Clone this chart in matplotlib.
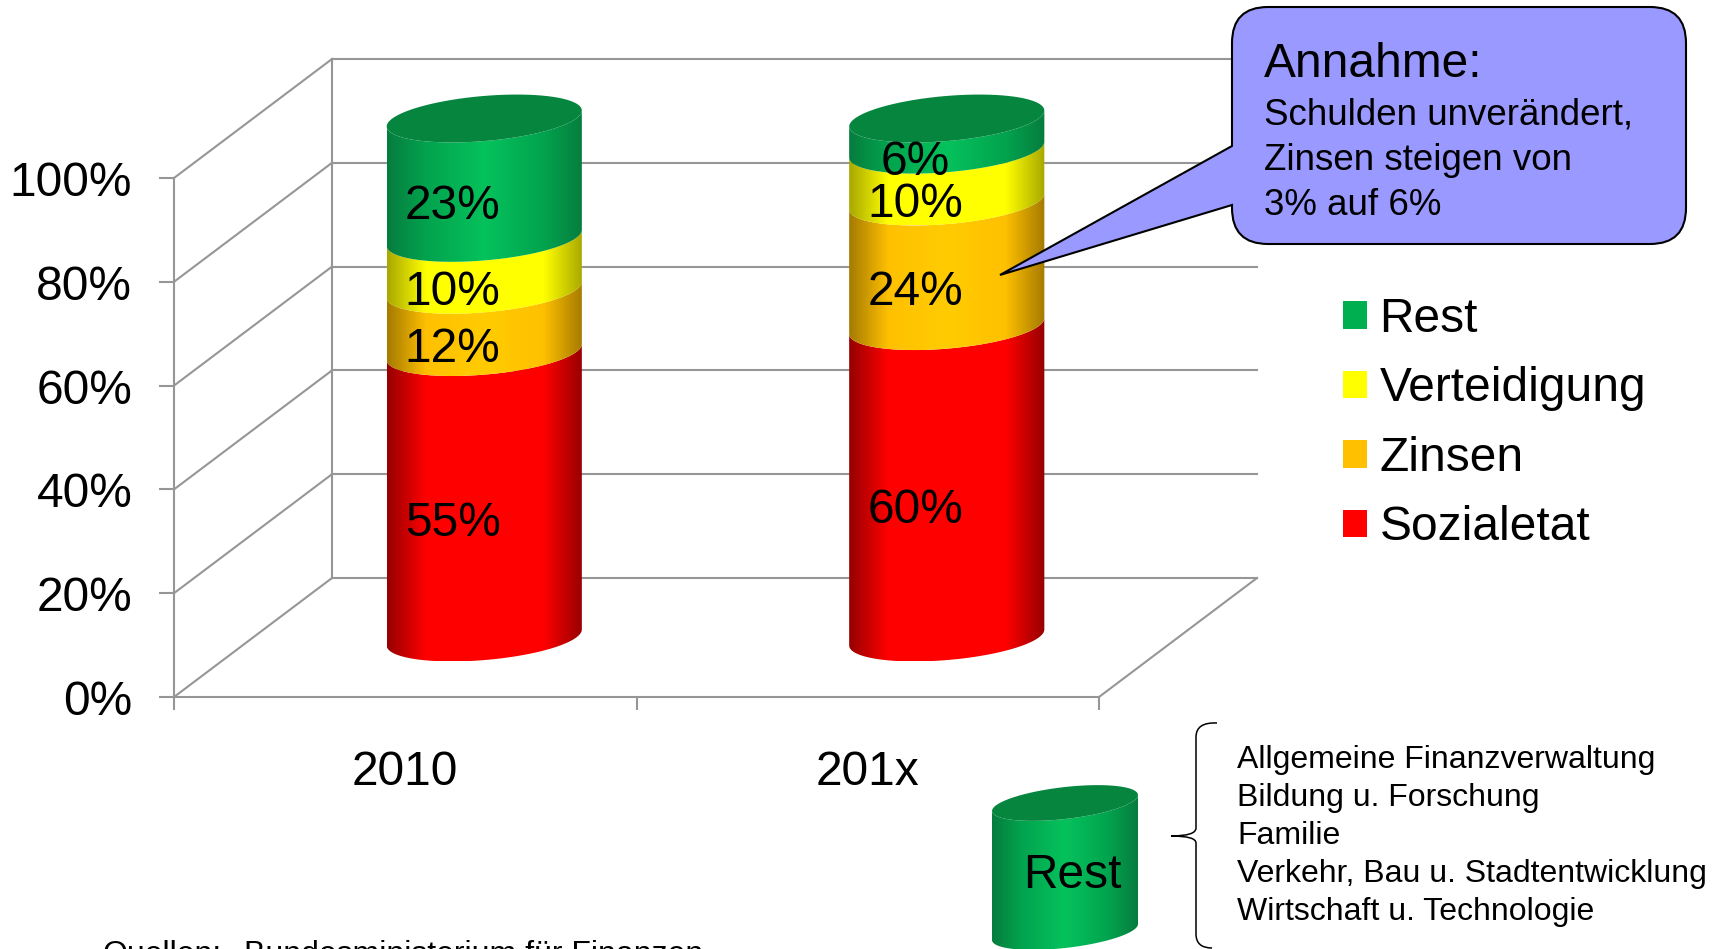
"""
Stacked 3D cylinder chart of the federal budget shares, 2010 against 201x.
Saves the figure as out.png.
"""

import numpy as np
import matplotlib

matplotlib.use("Agg")
import matplotlib.pyplot as plt
from matplotlib.patches import Patch, PathPatch, Polygon
from matplotlib.path import Path
from matplotlib.transforms import ScaledTranslation


CATEGORIES = ["2010", "201x"]
SERIES = ["Sozialetat", "Zinsen", "Verteidigung", "Rest"]
SOZIALETAT = [55, 60]
ZINSEN = [12, 24]
VERTEIDIGUNG = [10, 10]
REST = [23, 6]
Y_TICKS = [0, 20, 40, 60, 80, 100]
REST_ITEMS = [
    "Allgemeine Finanzverwaltung",
    "Bildung u. Forschung",
    "Familie",
    "Verkehr, Bau u. Stadtentwicklung",
    "Wirtschaft u. Technologie",
]

WIDTH, HEIGHT = 1725, 949
PLOT_LEFT, PLOT_RIGHT, PLOT_BOTTOM, PLOT_TOP = 174, 1099, 697, 178
GRID_COLOR = "#969696"
LINE_W = 1.5
BIG_FONT = 34.5

# wall depth, in data units of the main axes
DEPTH_X = 158 / ((PLOT_RIGHT - PLOT_LEFT) / 2)
DEPTH_Y = 119 / ((PLOT_BOTTOM - PLOT_TOP) / 100)

BAR_HALF_WIDTH = 0.211
ELLIPSE_TILT = 1.54
ELLIPSE_B = 4.35
LABEL_DEPTH = 0.30

# edge, full and centre colour for the cylinder sides
SHADES = {
    "Sozialetat": ("#960000", "#ff0000", "#ff0000"),
    "Zinsen": ("#a57a00", "#ffc000", "#ffcc00"),
    "Verteidigung": ("#a8a800", "#ffff00", "#ffff00"),
    "Rest": ("#067c3e", "#02a34e", "#05c25c"),
}
TOP_GREEN = "#06853f"


def hex_rgb(color):
    return np.array(matplotlib.colors.to_rgb(color))


def shade_strip(shade):
    """Horizontal gradient image for a cylinder side."""
    edge, full, centre = [hex_rgb(c) for c in shade]
    pos = np.linspace(0, 1, 256)
    stops = [0, 0.2, 0.5, 0.8, 1]
    colors = np.array([edge, full, centre, full, edge])
    strip = np.stack([np.interp(pos, stops, colors[:, i]) for i in range(3)], axis=1)
    return strip[np.newaxis, :, :]


def arc(cx, cy, half_w, tilt, b, start, stop):
    t = np.linspace(start, stop, 80)
    return np.column_stack([cx + half_w * np.cos(t), cy + tilt * np.cos(t) + b * np.sin(t)])


def draw_side(ax, cx, y0, y1, half_w, tilt, b, shade, zorder=3):
    """Cylinder side between two levels, shaded left to right."""
    lower = arc(cx, y0, half_w, tilt, b, np.pi, 2 * np.pi)
    upper = arc(cx, y1, half_w, tilt, b, 2 * np.pi, np.pi)
    outline = np.vstack([lower, upper])
    im = ax.imshow(
        shade_strip(shade),
        extent=[
            cx - half_w,
            cx + half_w,
            outline[:, 1].min(),
            outline[:, 1].max(),
        ],
        aspect="auto",
        interpolation="bilinear",
        zorder=zorder,
    )
    im.set_clip_box(ax.figure.bbox)
    im.set_clip_path(Polygon(outline, closed=True, transform=ax.transData))


def draw_top(ax, cx, cy, half_w, tilt, b, zorder=3):
    ring = arc(cx, cy, half_w, tilt, b, 0, 2 * np.pi)
    ax.add_patch(
        Polygon(ring, closed=True, facecolor=TOP_GREEN, edgecolor="none", zorder=zorder, clip_on=False)
    )


def draw_walls(ax):
    """Back wall, side wall and floor lines behind the cylinders."""
    x_max = len(CATEGORIES)
    line = dict(color=GRID_COLOR, lw=LINE_W, clip_on=False, zorder=1)
    for tick in Y_TICKS:
        ax.plot([0, DEPTH_X], [tick, tick + DEPTH_Y], **line)
        ax.plot([DEPTH_X, x_max + DEPTH_X], [tick + DEPTH_Y, tick + DEPTH_Y], **line)
    ax.plot([DEPTH_X, DEPTH_X], [DEPTH_Y, 100 + DEPTH_Y], **line)
    ax.plot([x_max, x_max + DEPTH_X], [0, DEPTH_Y], **line)


def draw_cylinders(ax):
    stacks = [SOZIALETAT, ZINSEN, VERTEIDIGUNG, REST]
    for i in range(len(CATEGORIES)):
        cx = i + 0.5 + 0.5 * DEPTH_X
        bottom = 0
        for name, values in zip(SERIES, stacks):
            value = values[i]
            y0 = bottom + 0.5 * DEPTH_Y
            y1 = bottom + value + 0.5 * DEPTH_Y
            draw_side(ax, cx, y0, y1, BAR_HALF_WIDTH, ELLIPSE_TILT, ELLIPSE_B, SHADES[name])
            ax.text(
                i + 0.5 + LABEL_DEPTH * DEPTH_X,
                bottom + value / 2 + LABEL_DEPTH * DEPTH_Y,
                f"{value}%",
                fontsize=BIG_FONT,
                ha="center",
                va="center_baseline",
                zorder=4,
                clip_on=False,
            )
            bottom += value
        draw_top(ax, cx, bottom + 0.5 * DEPTH_Y, BAR_HALF_WIDTH, ELLIPSE_TILT, ELLIPSE_B)


def style_axes(ax):
    ax.set_xlim(0, len(CATEGORIES))
    ax.set_ylim(0, 100)
    ax.patch.set_visible(False)
    for side in ["top", "right"]:
        ax.spines[side].set_visible(False)
    for side in ["left", "bottom"]:
        ax.spines[side].set_color(GRID_COLOR)
        ax.spines[side].set_linewidth(LINE_W)

    ax.set_yticks(Y_TICKS, [f"{t}%" for t in Y_TICKS])
    ax.tick_params(axis="y", labelsize=BIG_FONT, length=10.5, width=LINE_W, color=GRID_COLOR, pad=19.5)
    nudge = ScaledTranslation(0, -0.5 / 100, ax.figure.dpi_scale_trans)
    for label in ax.get_yticklabels():
        label.set_transform(label.get_transform() + nudge)

    ax.set_xticks(range(len(CATEGORIES) + 1), [""] * (len(CATEGORIES) + 1))
    ax.tick_params(axis="x", which="major", length=9.5, width=LINE_W, color=GRID_COLOR)
    ax.set_xticks(np.arange(len(CATEGORIES)) + 0.5, CATEGORIES, minor=True)
    ax.tick_params(axis="x", which="minor", length=0, labelsize=BIG_FONT, pad=38.5)


def add_legend(ax, fig):
    colors = {"Rest": "#00b050", "Verteidigung": "#ffff00", "Zinsen": "#ffc000", "Sozialetat": "#ff0000"}
    handles = [Patch(facecolor=colors[s], label=s) for s in reversed(SERIES)]
    ax.legend(
        handles=handles,
        loc="upper left",
        bbox_to_anchor=(1343 / WIDTH, 1 - 297 / HEIGHT),
        bbox_transform=fig.transFigure,
        frameon=False,
        fontsize=BIG_FONT,
        handlelength=0.51,
        handleheight=0.51,
        handletextpad=0.25,
        labelspacing=0.51,
        borderpad=0,
        borderaxespad=0,
    )


def draw_callout(over):
    x0, x1, y0, y1, r = 1232, 1686, 7, 244, 36
    verts = [
        (x0 + r, y0),
        (x1 - r, y0), (x1, y0), (x1, y0 + r),
        (x1, y1 - r), (x1, y1), (x1 - r, y1),
        (x0 + r, y1), (x0, y1), (x0, y1 - r),
        (x0, 205), (1000, 275), (x0, 146),
        (x0, y0 + r), (x0, y0), (x0 + r, y0),
        (x0 + r, y0),
    ]
    codes = [
        Path.MOVETO,
        Path.LINETO, Path.CURVE3, Path.CURVE3,
        Path.LINETO, Path.CURVE3, Path.CURVE3,
        Path.LINETO, Path.CURVE3, Path.CURVE3,
        Path.LINETO, Path.LINETO, Path.LINETO,
        Path.LINETO, Path.CURVE3, Path.CURVE3,
        Path.CLOSEPOLY,
    ]
    over.add_patch(
        PathPatch(Path(verts, codes), facecolor="#9999ff", edgecolor="black", lw=1.5, joinstyle="miter")
    )
    over.text(1264, 64, "Annahme:", fontsize=BIG_FONT, va="center")
    body = ["Schulden unverändert,", "Zinsen steigen von", "3% auf 6%"]
    for y, line in zip([115, 160, 205], body):
        over.text(1264, y, line, fontsize=26.5, va="center")


def draw_rest_key(over):
    """Small Rest cylinder with the brace and the list of budget items."""
    draw_side(over, 1065, 932, 803, 73, -8, -16, SHADES["Rest"])
    draw_top(over, 1065, 803, 73, -8, -16)
    over.text(1072, 875, "Rest", fontsize=BIG_FONT, ha="center", va="center")

    brace = [
        (1217, 723), (1196, 722), (1196, 737),
        (1196, 828),
        (1196, 836), (1171, 836),
        (1196, 836), (1196, 843),
        (1196, 934),
        (1196, 948), (1212, 948),
    ]
    codes = [
        Path.MOVETO, Path.CURVE3, Path.CURVE3,
        Path.LINETO,
        Path.CURVE3, Path.CURVE3,
        Path.CURVE3, Path.CURVE3,
        Path.LINETO,
        Path.CURVE3, Path.CURVE3,
    ]
    over.add_patch(PathPatch(Path(brace, codes), facecolor="none", edgecolor="black", lw=1.1))

    for y, item in zip([760, 798, 836, 874, 912], REST_ITEMS):
        over.text(1237, y, item, fontsize=23, va="center")


def main():
    plt.rcParams["font.family"] = ["Liberation Sans", "DejaVu Sans"]

    fig = plt.figure(figsize=(WIDTH / 100, HEIGHT / 100), dpi=100)
    ax = fig.add_axes(
        [
            PLOT_LEFT / WIDTH,
            1 - PLOT_BOTTOM / HEIGHT,
            (PLOT_RIGHT - PLOT_LEFT) / WIDTH,
            (PLOT_BOTTOM - PLOT_TOP) / HEIGHT,
        ]
    )
    style_axes(ax)
    draw_walls(ax)
    draw_cylinders(ax)
    add_legend(ax, fig)

    # pixel-based layer for the slide annotations
    over = fig.add_axes([0, 0, 1, 1], zorder=5)
    over.set_xlim(0, WIDTH)
    over.set_ylim(HEIGHT, 0)
    over.axis("off")
    over.patch.set_visible(False)

    draw_callout(over)
    draw_rest_key(over)
    over.text(102, 963, "Quellen:", fontsize=23, va="baseline")
    over.text(244, 963, "Bundesministerium für Finanzen", fontsize=23, va="baseline")

    fig.savefig("out.png", dpi=100, facecolor="white")
    plt.close(fig)


if __name__ == "__main__":
    main()
